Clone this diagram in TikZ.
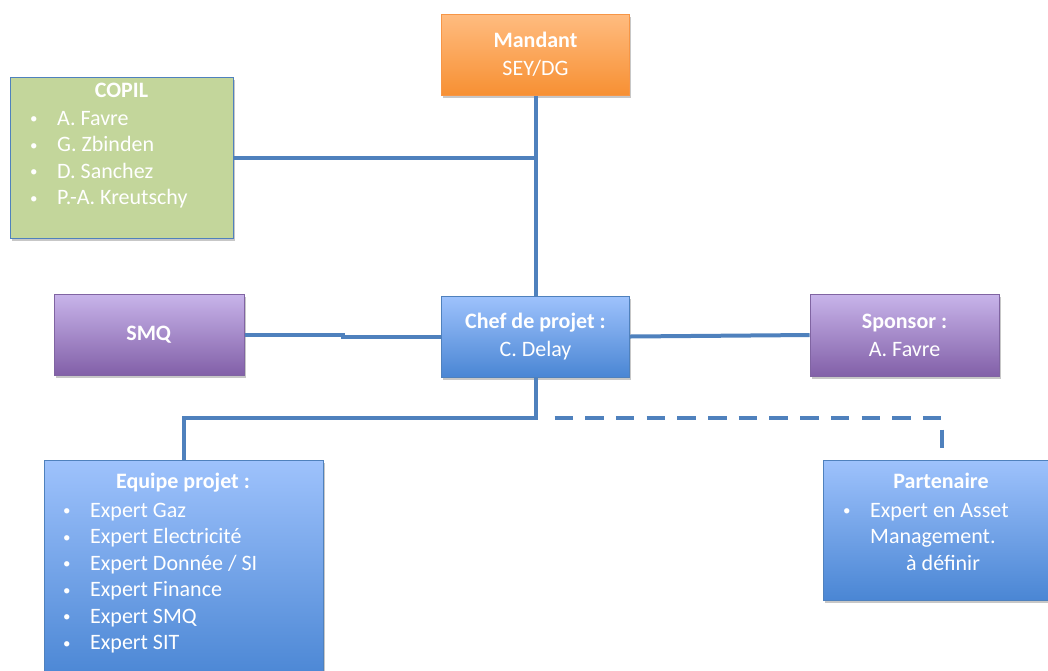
\documentclass[tikz,border=0pt]{standalone}
\usepackage{fontspec}
\setmainfont{Carlito}
\usetikzlibrary{shadows}
\definecolor{lineblue}{HTML}{4F81BD}
\definecolor{orTop}{HTML}{FFBC80}
\definecolor{orBot}{HTML}{F79033}
\definecolor{orLine}{HTML}{F79646}
\definecolor{puTop}{HTML}{C8B4EA}
\definecolor{puBot}{HTML}{8260A8}
\definecolor{puLine}{HTML}{8064A2}
\definecolor{blTop}{HTML}{9EC2FC}
\definecolor{blBot}{HTML}{4A86D4}
\definecolor{grFill}{HTML}{C3D69B}
\newcommand\blt[1]{\makebox[#1][l]{\hspace{2pt}\raisebox{1.5pt}{\fontsize{15}{15}\selectfont •}}}
\tikzset{
  box/.style={draw, line width=1pt, inner sep=0pt, text=white, align=center,
    font=\fontsize{22}{28}\selectfont,
    drop shadow={shadow xshift=1.5pt, shadow yshift=-2.5pt, opacity=0.22, fill=black}},
  orangebox/.style={box, draw=orLine, top color=orTop, bottom color=orBot},
  purplebox/.style={box, draw=puLine, top color=puTop, bottom color=puBot},
  bluebox/.style={box, draw=lineblue, top color=blTop, bottom color=blBot},
  greenbox/.style={box, draw=lineblue, fill=grFill},
  txt/.style={text=white, inner sep=0pt, font=\fontsize{22}{26.5}\selectfont},
  link/.style={draw=lineblue, line width=4pt},
  dashlink/.style={link, dash pattern=on 18.5pt off 12.2pt, dash phase=18.5pt},
}
\begin{document}
\begin{tikzpicture}[x=1pt, y=-1pt]
\useasboundingbox (0,0) rectangle (1048,670);

% boxes
\node[orangebox, minimum width=188pt, minimum height=81pt] (mandant) at (535.5,54.5) {\textbf{Mandant}\\SEY/DG};
\node[greenbox, minimum width=223pt, minimum height=161pt] (copil) at (121.5,157.5) {};
\node[purplebox, minimum width=190pt, minimum height=81pt] (smq) at (149,334.5) {\textbf{SMQ}};
\node[bluebox, minimum width=188pt, minimum height=81pt] (chef) at (535.5,336.5) {\textbf{Chef de projet :}\\C. Delay};
\node[purplebox, minimum width=189pt, minimum height=82pt] (sponsor) at (904.5,335) {\textbf{Sponsor :}\\A. Favre};
\node[bluebox, minimum width=279pt, minimum height=220pt] (equipe) at (183.5,570) {};
\node[bluebox, minimum width=238pt, minimum height=140pt] (partenaire) at (942,530) {};

% texts
\node[txt, anchor=base] (copilT) at (121.5,97) {\textbf{COPIL}};
\node[txt, anchor=base west] (copilL) at (28,125) {\begin{tabular}[t]{@{}l@{}}
\blt{29pt}A. Favre\\ \blt{29pt}G. Zbinden\\ \blt{29pt}D. Sanchez\\ \blt{29pt}P.-A. Kreutschy\end{tabular}};

\node[txt, anchor=base] (equipeT) at (183,488) {\textbf{Equipe projet :}};
\node[txt, anchor=base west] (equipeL) at (61,517) {\begin{tabular}[t]{@{}l@{}}
\blt{29pt}Expert Gaz\\ \blt{29pt}Expert Electricité\\ \blt{29pt}Expert Donnée / SI\\
\blt{29pt}Expert Finance\\ \blt{29pt}Expert SMQ\\ \blt{29pt}Expert SIT\end{tabular}};

\node[txt, anchor=base] (partT) at (941,488) {\textbf{Partenaire}};
\node[txt, anchor=base west] (partL) at (841,517) {\begin{tabular}[t]{@{}l@{}}
\blt{29pt}Expert en Asset\\ \hspace{29pt}Management.\\ \hspace{65pt}à définir\end{tabular}};

% connectors
\coordinate (fork) at (535.5,418);
\coordinate (smqmid) at (343,334.5);
\draw[link] (mandant.south) -- (chef.north);
\draw[link] (copil.east) -- (copil.east -| mandant.south);
\draw[link] (smq.east) -- (smqmid) |- (chef.west);
\draw[link] (chef.east) -- (sponsor.west);
\draw[link] (chef.south) -- (fork) -| (equipe.north);
\draw[dashlink] ([xshift=6.8pt]fork) -| (partenaire.north);
\end{tikzpicture}
\end{document}
